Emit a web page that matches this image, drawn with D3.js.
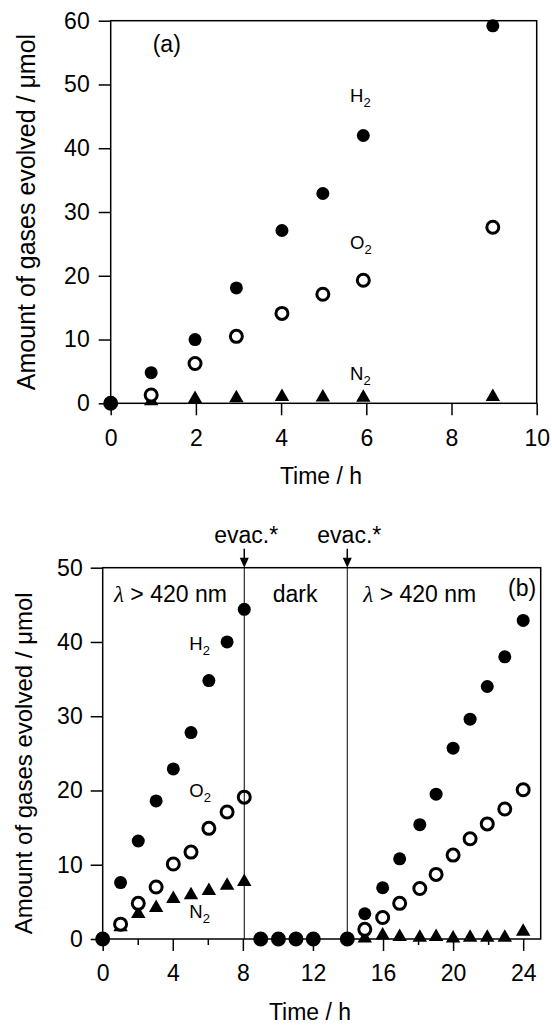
<!DOCTYPE html>
<html lang="en">
<head>
<meta charset="UTF-8">
<title>Gas evolution</title>
<script src="https://cdn.jsdelivr.net/npm/d3@7"></script>
<style>
  body { margin: 0; background: #fff; }
  svg { display: block; font-family: "Liberation Sans", Arial, sans-serif; }
  .axis text { font-size: 23px; fill: #000; font-family: "Liberation Sans", Arial, sans-serif; }
  .axis line { stroke: #000; stroke-width: 1.5; }
</style>
</head>
<body>
<script>
  // panel (a): time in h, gases in umol
  var timeA = [0, 0.95, 1.98, 2.95, 4.02, 4.98, 5.93, 8.97];
  var h2A = [0, 4.8, 10.0, 18.1, 27.1, 32.9, 42.0, 59.2];
  var o2A = [0, 1.3, 6.25, 10.5, 14.1, 17.1, 19.3, 27.6];
  var n2A = [null, 0.35, 0.7, 0.8, 1.0, 0.95, 0.9, 1.0];

  // panel (b): light / dark / light, evacuated at 8 h and 14 h
  var timeB = [0, 1.02, 2.03, 3.05, 4.03, 5.04, 6.06, 7.1, 8.08,
               9.02, 10.03, 11.03, 12.02, 13.96,
               14.96, 15.98, 16.95, 18.1, 19.03, 20.0, 20.97, 21.95, 22.95, 24.0];
  var h2B = [0, 7.6, 13.2, 18.6, 22.9, 27.8, 34.8, 40.0, 44.4,
             0, 0, 0, 0, 0,
             3.4, 6.9, 10.8, 15.4, 19.5, 25.7, 29.6, 34.0, 38.0, 42.9];
  var o2B = [0, 2.0, 4.8, 7.0, 10.1, 11.7, 14.9, 17.1, 19.1,
             0, 0, 0, 0, 0,
             1.3, 2.9, 4.8, 6.8, 8.7, 11.3, 13.5, 15.5, 17.5, 20.1];
  var n2B = [null, 1.6, 3.4, 4.2, 5.4, 5.9, 6.5, 7.2, 7.7,
             null, null, null, null, null,
             0.1, 0.5, 0.3, 0.2, 0.3, 0.1, 0.2, 0.2, 0.2, 1.0];
  var evacTimes = [8.08, 13.96];

  var xTicksA = [0, 2, 4, 6, 8, 10];
  var yTicksA = [0, 10, 20, 30, 40, 50, 60];
  var xTicksB = [0, 4, 8, 12, 16, 20, 24];
  var xMinorB = [2, 6, 10, 14, 18, 22];
  var yTicksB = [0, 10, 20, 30, 40, 50];

  var yTitle = 'Amount of gases evolved / \u03bcmol';
  var xTitle = 'Time / h';

  var svg = d3.select('body').append('svg').attr('width', 552).attr('height', 1028);

  function pts(t, v) {
    var out = [];
    t.forEach(function (d, i) { if (v[i] !== null) out.push([d, v[i]]); });
    return out;
  }

  function gasLabel(x, y, name) {
    var t = svg.append('text').attr('x', x).attr('y', y).attr('font-size', 18.5);
    t.append('tspan').text(name);
    t.append('tspan').attr('font-size', 13).attr('dy', 5).text('2');
  }

  function panel(o) {
    var x = d3.scaleLinear().domain(o.xDomain).range([o.left, o.right]);
    var y = d3.scaleLinear().domain(o.yDomain).range([o.bottom, o.top]);

    svg.append('g').attr('class', 'axis')
      .attr('transform', 'translate(' + o.left + ',0)')
      .call(d3.axisLeft(y).tickValues(o.yTicks).tickSize(12).tickPadding(o.yPad).tickSizeOuter(0))
      .call(function (g) { g.select('.domain').remove(); });

    svg.append('g').attr('class', 'axis')
      .attr('transform', 'translate(0,' + o.bottom + ')')
      .call(d3.axisBottom(x).tickValues(o.xTicks).tickSize(12).tickPadding(14).tickSizeOuter(0))
      .call(function (g) { g.select('.domain').remove(); });

    if (o.xMinor) {
      svg.append('g').attr('class', 'axis')
        .attr('transform', 'translate(0,' + o.bottom + ')')
        .call(d3.axisBottom(x).tickValues(o.xMinor).tickSize(6).tickFormat(''))
        .call(function (g) { g.select('.domain').remove(); });
    }

    svg.append('rect')
      .attr('x', o.left).attr('y', o.top)
      .attr('width', o.right - o.left).attr('height', o.bottom - o.top)
      .attr('fill', 'none').attr('stroke', '#000').attr('stroke-width', 1.5);

    var tri = d3.symbol().type(d3.symbolTriangle).size(90);
    svg.append('g').selectAll('path').data(pts(o.time, o.n2)).enter().append('path')
      .attr('d', tri)
      .attr('transform', function (d) { return 'translate(' + x(d[0]) + ',' + y(d[1]) + ')'; })
      .attr('fill', '#000');

    svg.append('g').selectAll('circle').data(pts(o.time, o.o2)).enter().append('circle')
      .attr('cx', function (d) { return x(d[0]); })
      .attr('cy', function (d) { return y(d[1]); })
      .attr('r', 6)
      .attr('fill', '#fff').attr('stroke', '#000').attr('stroke-width', 3);

    svg.append('g').selectAll('circle').data(pts(o.time, o.h2)).enter().append('circle')
      .attr('cx', function (d) { return x(d[0]); })
      .attr('cy', function (d) { return y(d[1]); })
      .attr('r', 6.5)
      .attr('fill', '#000');

    svg.append('text')
      .attr('transform', 'translate(' + o.titleX + ',' + ((o.top + o.bottom) / 2 + o.titleDy) + ') rotate(-90)')
      .attr('text-anchor', 'middle').attr('font-size', o.titleSize)
      .text(yTitle);

    svg.append('text')
      .attr('x', o.xTitleX).attr('y', o.xTitleY)
      .attr('text-anchor', 'middle').attr('font-size', 23)
      .text(xTitle);

    return { x: x, y: y };
  }

  // ---- (a)
  var a = panel({
    left: 110.7, right: 536.7, top: 20.7, bottom: 403.3,
    xDomain: [0, 10], yDomain: [0, 60],
    xTicks: xTicksA, yTicks: yTicksA, yPad: 9,
    time: timeA, h2: h2A, o2: o2A, n2: n2A,
    titleX: 35, titleDy: 0, titleSize: 25,
    xTitleX: 321, xTitleY: 484
  });
  svg.append('text').attr('x', 152.7).attr('y', 52).attr('font-size', 23).text('(a)');
  gasLabel(350, 101.7, 'H');
  gasLabel(350, 249, 'O');
  gasLabel(350, 380, 'N');

  // ---- (b)
  var b = panel({
    left: 102.7, right: 540.7, top: 567.7, bottom: 939,
    xDomain: [0, 25], yDomain: [0, 50],
    xTicks: xTicksB, xMinor: xMinorB, yTicks: yTicksB, yPad: 8,
    time: timeB, h2: h2B, o2: o2B, n2: n2B,
    titleX: 31.5, titleDy: 10, titleSize: 24,
    xTitleX: 310, xTitleY: 1020
  });

  evacTimes.forEach(function (t) {
    var px = b.x(t), top = 567.7;
    svg.append('line')
      .attr('x1', px).attr('x2', px).attr('y1', top).attr('y2', 939)
      .attr('stroke', '#000').attr('stroke-width', 1);
    svg.append('line')
      .attr('x1', px).attr('x2', px).attr('y1', top - 19).attr('y2', top - 8)
      .attr('stroke', '#000').attr('stroke-width', 1.5);
    svg.append('path')
      .attr('d', 'M' + (px - 4.5) + ',' + (top - 10) + 'L' + (px + 4.5) + ',' + (top - 10) + 'L' + px + ',' + top + 'Z')
      .attr('fill', '#000');
    svg.append('text')
      .attr('x', px + 2).attr('y', 543)
      .attr('text-anchor', 'middle').attr('font-size', 23)
      .text('evac.*');
  });

  function lambdaText(x, y) {
    var t = svg.append('text').attr('x', x).attr('y', y).attr('font-size', 23);
    t.append('tspan').attr('font-style', 'italic').attr('font-family', '"Liberation Serif", serif').text('\u03bb');
    t.append('tspan').text(' > 420 nm');
  }
  lambdaText(114, 602);
  svg.append('text').attr('x', 272.7).attr('y', 602).attr('font-size', 23).text('dark');
  lambdaText(363.3, 602);
  svg.append('text').attr('x', 508).attr('y', 596).attr('font-size', 23).text('(b)');

  gasLabel(189.3, 650, 'H');
  gasLabel(189.3, 797, 'O');
  gasLabel(189.3, 918, 'N');
</script>
</body>
</html>
